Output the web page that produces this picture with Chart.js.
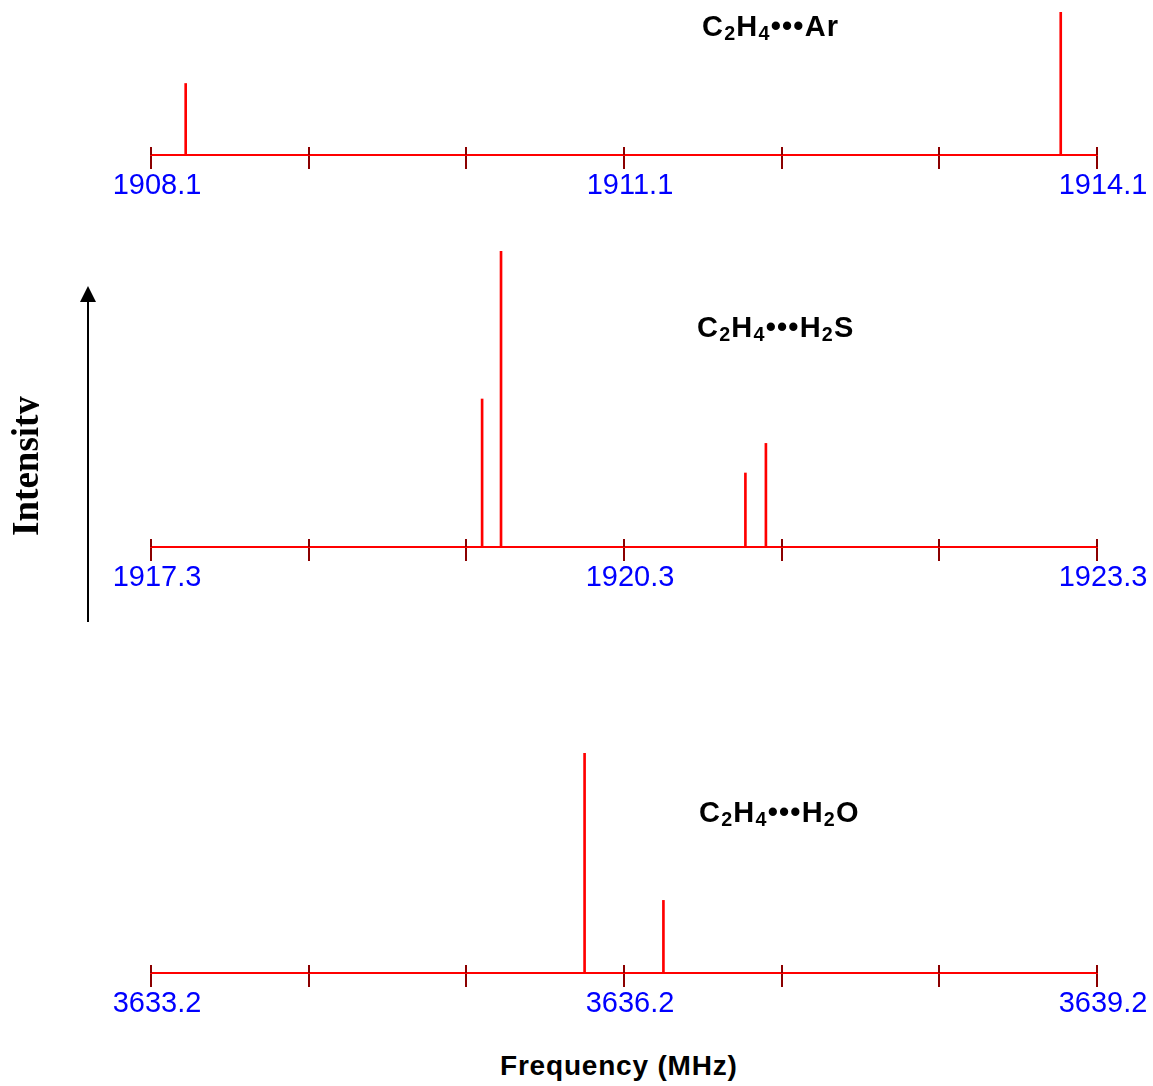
<!DOCTYPE html>
<html>
<head>
<meta charset="utf-8">
<script src="https://cdn.jsdelivr.net/npm/chart.js@4.4.1/dist/chart.umd.min.js"></script>
<style>
  body { margin: 0; background: #fff; }
  #wrap { position: relative; width: 1153px; height: 1086px; overflow: hidden; }
  canvas { position: absolute; left: 0; }
  .label { position: absolute; font-family: Arial, "Liberation Sans", sans-serif; font-weight: bold;
           font-size: 29px; line-height: 29px; letter-spacing: 1.2px; white-space: nowrap; color: #000; }
  .label sub { font-size: 0.68em; vertical-align: -0.22em; line-height: 0; }
  #xlab { font-size: 28px; line-height: 28px; letter-spacing: 0.8px; }
  #ylab { position: absolute; width: 170px; height: 32px; overflow: hidden; text-align: center;
          font-family: "Times New Roman", "Liberation Serif", serif; font-weight: bold;
          font-size: 37px; line-height: 37px; white-space: nowrap; transform: rotate(-90deg); }
  svg { position: absolute; left: 0; top: 0; }
</style>
</head>
<body>
<div id="wrap">
  <canvas id="arChart" width="1153" height="205" style="top:0px"></canvas>
  <canvas id="h2sChart" width="1153" height="357" style="top:240px"></canvas>
  <canvas id="h2oChart" width="1153" height="283" style="top:740px"></canvas>

  <div class="label" style="left:702px; top:12px">C<sub>2</sub>H<sub>4</sub>•••Ar</div>
  <div class="label" style="left:697px; top:313px">C<sub>2</sub>H<sub>4</sub>•••H<sub>2</sub>S</div>
  <div class="label" style="left:699px; top:798px">C<sub>2</sub>H<sub>4</sub>•••H<sub>2</sub>O</div>
  <div class="label" id="xlab" style="left:500px; top:1052px">Frequency (MHz)</div>
  <div id="ylab" style="left:-62px; top:450px">Intensity</div>

  <svg width="120" height="640">
    <line x1="88" y1="622" x2="88" y2="298" stroke="#000" stroke-width="2"/>
    <polygon points="88,286 80,302 96,302" fill="#000"/>
  </svg>
</div>

<script>
// line positions (MHz) and relative intensities for each complex
const arFreqs = [1908.32, 1913.87];
const arInt = [50, 100];
const arTicks = [1908.1, 1909.1, 1910.1, 1911.1, 1912.1, 1913.1, 1914.1];
const arTickLabels = ['1908.1', '', '', '1911.1', '', '', '1914.1'];

const h2sFreqs = [1919.40, 1919.52, 1921.07, 1921.20];
const h2sInt = [50, 100, 25, 35];
const h2sTicks = [1917.3, 1918.3, 1919.3, 1920.3, 1921.3, 1922.3, 1923.3];
const h2sTickLabels = ['1917.3', '', '', '1920.3', '', '', '1923.3'];

const h2oFreqs = [3635.95, 3636.45];
const h2oInt = [100, 33];
const h2oTicks = [3633.2, 3634.2, 3635.2, 3636.2, 3637.2, 3638.2, 3639.2];
const h2oTickLabels = ['3633.2', '', '', '3636.2', '', '', '3639.2'];

// short stub of each tick mark above the baseline
const tickStub = {
  id: 'tickStub',
  afterDraw(chart) {
    const xs = chart.scales.x, ctx = chart.ctx, yb = chart.chartArea.bottom;
    ctx.save();
    ctx.strokeStyle = '#8b0000';
    ctx.lineWidth = 2;
    xs.ticks.forEach(t => {
      const px = Math.round(xs.getPixelForValue(t.value));
      ctx.beginPath();
      ctx.moveTo(px, yb - 8);
      ctx.lineTo(px, yb);
      ctx.stroke();
    });
    ctx.restore();
  }
};

function makePanel(id, freqs, ints, ticks, tickLabels, padTop) {
  return new Chart(document.getElementById(id), {
    type: 'bar',
    data: {
      datasets: [{
        data: freqs.map((f, i) => ({ x: f, y: ints[i] })),
        backgroundColor: '#ff0000',
        barThickness: 2,
        grouped: false
      }]
    },
    options: {
      responsive: false,
      animation: false,
      layout: { padding: { left: 151, right: 56, top: padTop, bottom: 0 } },
      plugins: { legend: { display: false }, tooltip: { enabled: false } },
      scales: {
        x: {
          type: 'linear',
          offset: false,
          min: ticks[0],
          max: ticks[ticks.length - 1],
          afterBuildTicks: s => { s.ticks = ticks.map(v => ({ value: v })); },
          afterFit: s => { s.height = 50; },
          grid: { offset: false, drawOnChartArea: false, drawTicks: true, tickLength: 14, color: '#8b0000', lineWidth: 2 },
          border: { display: true, color: '#ff0000', width: 2 },
          ticks: {
            autoSkip: false,
            maxRotation: 0,
            labelOffset: 6,
            padding: 0,
            color: '#0000ff',
            font: { family: 'Arial, "Liberation Sans", sans-serif', size: 29 },
            callback: (v, i) => tickLabels[i]
          }
        },
        y: { display: false, min: 0, max: 100 }
      }
    },
    plugins: [tickStub]
  });
}

makePanel('arChart', arFreqs, arInt, arTicks, arTickLabels, 12);
makePanel('h2sChart', h2sFreqs, h2sInt, h2sTicks, h2sTickLabels, 11);
makePanel('h2oChart', h2oFreqs, h2oInt, h2oTicks, h2oTickLabels, 13);
</script>
</body>
</html>
